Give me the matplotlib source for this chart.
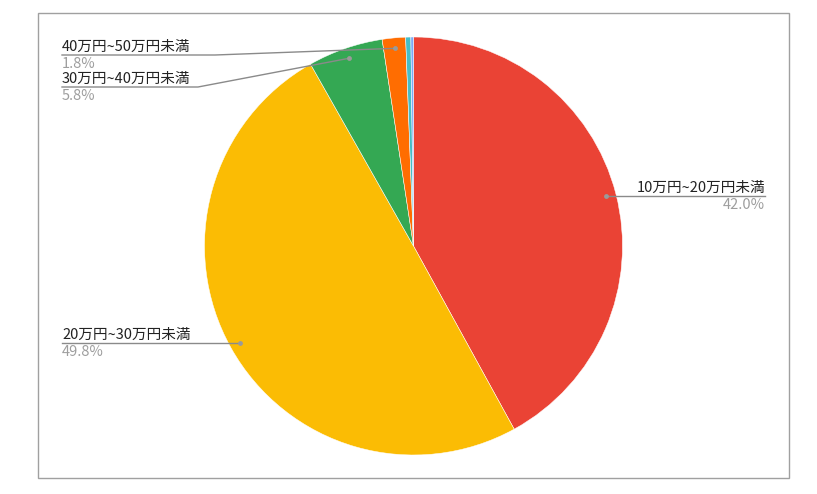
import numpy as np
import matplotlib
matplotlib.use("Agg")
import matplotlib.pyplot as plt
from matplotlib.patches import Rectangle

plt.rcParams['font.family'] = ['Noto Sans CJK JP', 'DejaVu Sans']

# data
labels = ["10万円~20万円未満", "20万円~30万円未満", "30万円~40万円未満",
          "40万円~50万円未満", "50万円~60万円未満", "60万円以上"]
shares = [42.0, 49.8, 5.8, 1.8, 0.4, 0.2]
colors = ["#EA4335", "#FBBC04", "#34A853", "#FF6D01", "#46BDC6", "#7BAAF7"]

W, H = 817, 494
fig = plt.figure(figsize=(W / 100, H / 100), dpi=100)
ax = fig.add_axes([0, 0, 1, 1])


def py(y):
    # pixel row (from top) -> axis y
    return H - y


cx, cy, r = 413.5, py(246), 209
wedges, _ = ax.pie(shares, colors=colors, startangle=90, counterclock=False,
                   center=(cx, cy), radius=r, frame=True,
                   wedgeprops=dict(edgecolor="white", linewidth=0.35))
ax.set_xlim(0, W)
ax.set_ylim(0, H)
ax.set_aspect('equal')
ax.axis('off')

# outer frame
ax.add_patch(Rectangle((38, py(478)), 751, 465, fill=False,
                       edgecolor="#a0a0a0", linewidth=1.0))


def dot_pos(w, frac=0.95):
    mid = np.deg2rad((w.theta1 + w.theta2) / 2)
    return cx + frac * r * np.cos(mid), cy + frac * r * np.sin(mid)


line_c = "#8a8a8a"
txt_c = "#222222"
pct_c = "#9e9e9e"
fs = 10.5

# (slice index, text x, line y, anchor side, bend point x)
callouts = [
    (0, 765, 196, "right", None),
    (1, 62, 343, "left", None),
    (2, 62, 87, "left", 198),
    (3, 62, 55, "left", 215),
]

for i, tx, ly, side, bend in callouts:
    dx, dy = dot_pos(wedges[i])
    if bend is None:
        xs = [tx, dx]
        ys = [py(ly), py(ly)]
        dot_y = py(ly)
    else:
        xs = [tx, bend, dx]
        ys = [py(ly), py(ly), dy]
        dot_y = dy
    ax.plot(xs, ys, color=line_c, lw=1.0)
    ax.plot([dx], [dot_y], marker="o", ms=3.5, color="#9a9a9a", mec="none")
    ax.text(tx, py(ly) + 4, labels[i], ha=side, va="baseline",
            fontsize=fs, color=txt_c)
    ax.text(tx, py(ly) - 13, f"{shares[i]:.1f}%", ha=side, va="baseline",
            fontsize=fs, color=pct_c)

fig.savefig("out.png", dpi=100)
